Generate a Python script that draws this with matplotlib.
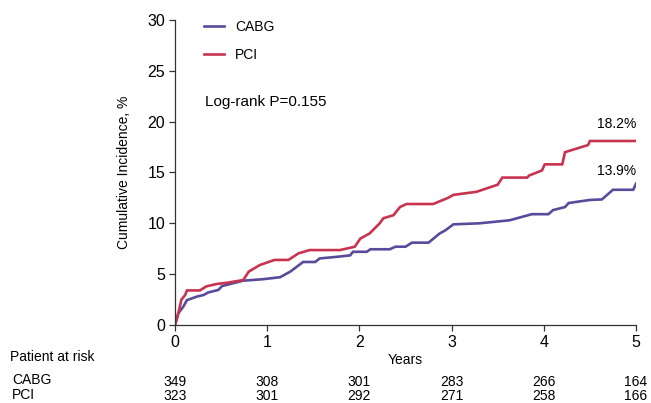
import matplotlib
matplotlib.use("Agg")
import matplotlib.pyplot as plt

plt.rcParams['font.family'] = ['Liberation Sans', 'DejaVu Sans']

# Cumulative incidence curves (years, %)
cabg_t = [0, 0.036, 0.09, 0.13, 0.24, 0.31, 0.36, 0.47, 0.51, 0.74, 0.95, 1.14, 1.25, 1.39, 1.52, 1.57, 1.75, 1.9, 1.93,
          2.08, 2.12, 2.33, 2.39, 2.5, 2.57, 2.75, 2.87, 2.93, 3.02, 3.3, 3.63, 3.87, 4.05, 4.1, 4.23, 4.27, 4.5, 4.63,
          4.75, 4.97, 5.0]
cabg_v = [0, 1.15, 1.8, 2.45, 2.8, 2.95, 3.2, 3.45, 3.83, 4.36, 4.5, 4.7, 5.25, 6.2, 6.2, 6.55, 6.7, 6.85, 7.2,
          7.2, 7.45, 7.45, 7.7, 7.7, 8.1, 8.1, 9.0, 9.3, 9.9, 10.0, 10.3, 10.9, 10.9, 11.3, 11.6, 12.0, 12.3, 12.35,
          13.3, 13.3, 13.9]

pci_t = [0, 0.036, 0.07, 0.11, 0.13, 0.27, 0.34, 0.45, 0.56, 0.74, 0.8, 0.92, 1.08, 1.23, 1.34, 1.46, 1.79, 1.95, 2.01,
         2.11, 2.22, 2.26, 2.37, 2.44, 2.51, 2.8, 2.96, 3.02, 3.27, 3.5, 3.55, 3.82, 3.84, 3.98, 4.01, 4.2, 4.23, 4.48,
         4.5, 5.0]
pci_v = [0, 1.15, 2.5, 2.95, 3.4, 3.4, 3.8, 4.03, 4.15, 4.42, 5.25, 5.9, 6.4, 6.4, 7.05, 7.37, 7.37, 7.7, 8.5,
         9.0, 10.0, 10.5, 10.8, 11.6, 11.9, 11.9, 12.5, 12.8, 13.1, 13.8, 14.5, 14.5, 14.7, 15.2, 15.8, 15.8, 17.0, 17.7,
         18.1, 18.1]

groups = ['CABG', 'PCI']
colors = ['#5a4a9c', '#c8334f']
final_labels = ['13.9%', '18.2%']
final_values = [13.9, 18.2]
risk_years = [0, 1, 2, 3, 4, 5]
risk_cabg = [349, 308, 301, 283, 266, 164]
risk_pci = [323, 301, 292, 271, 258, 166]
pvalue_text = 'Log-rank P=0.155'

fig = plt.figure(figsize=(6.51, 4.03), dpi=100)
ax = fig.add_axes([175/651, 1-325/403, (636-175)/651, (325-20)/403])

ax.plot(cabg_t, cabg_v, color=colors[0], lw=1.9, label=groups[0], solid_joinstyle='miter')
ax.plot(pci_t, pci_v, color=colors[1], lw=1.9, label=groups[1], solid_joinstyle='miter')

ax.set_xlim(0, 5)
ax.set_ylim(0, 30)
ax.set_xticks(risk_years)
ax.set_yticks([0, 5, 10, 15, 20, 25, 30])
ax.tick_params(labelsize=11.5, length=4, width=0.9, color='#333333', pad=3)
for s in ['top', 'right']:
    ax.spines[s].set_visible(False)
for s in ['left', 'bottom']:
    ax.spines[s].set_color('#333333')
    ax.spines[s].set_linewidth(0.9)
ax.set_ylabel('Cumulative Incidence, %', fontsize=10, labelpad=12)

ax.legend(loc='upper left', bbox_to_anchor=(0.035, 1.04), frameon=False, fontsize=10,
          handlelength=1.45, handletextpad=0.8, labelspacing=1.0)

ax.text(0.065, 0.73, pvalue_text, transform=ax.transAxes, fontsize=11, va='center', ha='left')
ax.text(5.0, final_values[1] + 0.9, final_labels[1], fontsize=10, ha='right', va='bottom')
ax.text(5.0, final_values[0] + 0.6, final_labels[0], fontsize=10, ha='right', va='bottom')

# at-risk table
def fx(x):
    return (175 + x * (636 - 175) / 5) / 651

def fy(py):
    return 1 - py / 403

fig.text(10/651, fy(357), 'Patient at risk', fontsize=10, ha='left', va='center')
fig.text(fx(2.5), fy(360), 'Years', fontsize=10, ha='center', va='center')
fig.text(12/651, fy(380), 'CABG', fontsize=10, ha='left', va='center')
fig.text(12/651, fy(395), 'PCI', fontsize=10, ha='left', va='center')
for yr, a, b in zip(risk_years, risk_cabg, risk_pci):
    fig.text(fx(yr), fy(382), str(a), fontsize=10, ha='center', va='center')
    fig.text(fx(yr), fy(396), str(b), fontsize=10, ha='center', va='center')

fig.savefig('out.png', dpi=100)
